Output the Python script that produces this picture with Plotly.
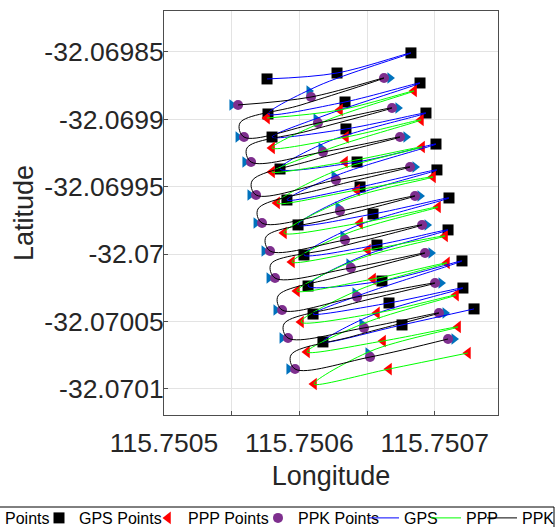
import plotly.graph_objects as go

# ---------------- data (lon / lat) ----------------
# GPS fixes, row by row: left, middle, right
gps_lon = [115.7505761, 115.7506278, 115.7506824,
           115.7505768, 115.7506337, 115.7506891,
           115.7505798, 115.7506344, 115.7506935,
           115.7505857, 115.7506426, 115.7507009,
           115.7505908, 115.7506448, 115.7507016,
           115.7505990, 115.7506544, 115.7507105,
           115.7506034, 115.7506573, 115.7507098,
           115.7506064, 115.7506610, 115.7507201,
           115.7506101, 115.7506662, 115.7507208,
           115.7506174, 115.7506758, 115.7507290]
gps_lat = [-32.0698700, -32.0698656, -32.0698507,
           -32.0698960, -32.0698871, -32.0698730,
           -32.0699131, -32.0699071, -32.0698953,
           -32.0699368, -32.0699316, -32.0699183,
           -32.0699598, -32.0699501, -32.0699375,
           -32.0699783, -32.0699702, -32.0699583,
           -32.0700006, -32.0699932, -32.0699820,
           -32.0700236, -32.0700199, -32.0700050,
           -32.0700444, -32.0700362, -32.0700251,
           -32.0700651, -32.0700525, -32.0700406]
gps_back_lon = [115.7506137, 115.7506197, 115.7506204, 115.7506285, 115.7506307,
                115.7506403, 115.7506433, 115.7506470, 115.7506522]
gps_back_lat = [-32.0698752, -32.0698967, -32.0699168, -32.0699412, -32.0699598,
                -32.0699798, -32.0700028, -32.0700295, -32.0700458]

ppp_lon = [115.7505761, 115.7506300, 115.7506847,
           115.7505798, 115.7506344, 115.7506898,
           115.7505798, 115.7506337, 115.7506906,
           115.7505835, 115.7506426, 115.7506987,
           115.7505886, 115.7506448, 115.7507024,
           115.7505945, 115.7506507, 115.7507076,
           115.7505982, 115.7506544, 115.7507090,
           115.7506012, 115.7506573, 115.7507157,
           115.7506056, 115.7506618, 115.7507172,
           115.7506108, 115.7506662, 115.7507245]
ppp_lat = [-32.0698990, -32.0698930, -32.0698789,
           -32.0699212, -32.0699131, -32.0699004,
           -32.0699390, -32.0699316, -32.0699205,
           -32.0699620, -32.0699524, -32.0699427,
           -32.0699843, -32.0699769, -32.0699650,
           -32.0700058, -32.0699969, -32.0699865,
           -32.0700273, -32.0700184, -32.0700065,
           -32.0700503, -32.0700436, -32.0700303,
           -32.0700725, -32.0700644, -32.0700540,
           -32.0700963, -32.0700852, -32.0700733]
ppp_back_lon = [115.7506211, 115.7506256, 115.7506248, 115.7506337, 115.7506359,
                115.7506418, 115.7506455, 115.7506485, 115.7506529]
ppp_back_lat = [-32.0699004, -32.0699205, -32.0699390, -32.0699598, -32.0699843,
                -32.0700043, -32.0700258, -32.0700510, -32.0700718]

ppk_lon = [115.7505547, 115.7506086, 115.7506625,
           115.7505591, 115.7506137, 115.7506684,
           115.7505643, 115.7506174, 115.7506743,
           115.7505680, 115.7506270, 115.7506817,
           115.7505724, 115.7506300, 115.7506854,
           115.7505783, 115.7506337, 115.7506906,
           115.7505820, 115.7506381, 115.7506928,
           115.7505872, 115.7506426, 115.7507002,
           115.7505916, 115.7506477, 115.7507031,
           115.7505968, 115.7506522, 115.7507098]
ppk_lat = [-32.0698893, -32.0698834, -32.0698693,
           -32.0699131, -32.0699027, -32.0698915,
           -32.0699316, -32.0699242, -32.0699131,
           -32.0699561, -32.0699450, -32.0699353,
           -32.0699769, -32.0699680, -32.0699568,
           -32.0699976, -32.0699895, -32.0699783,
           -32.0700177, -32.0700102, -32.0699991,
           -32.0700414, -32.0700317, -32.0700214,
           -32.0700622, -32.0700547, -32.0700436,
           -32.0700852, -32.0700763, -32.0700629]
ppk_back_lon = [115.7506012, 115.7506064, 115.7506101, 115.7506197, 115.7506226,
                115.7506263, 115.7506307, 115.7506352, 115.7506403]
ppk_back_lat = [-32.0698893, -32.0699086, -32.0699301, -32.0699509, -32.0699739,
                -32.0699954, -32.0700162, -32.0700377, -32.0700607]
ppk_turn_lon = [115.7505561, 115.7505613, 115.7505650, 115.7505694, 115.7505753,
                115.7505790, 115.7505842, 115.7505886, 115.7505938]
ppk_turn_lat = [-32.0699027, -32.0699212, -32.0699457, -32.0699665, -32.0699872,
                -32.0700073, -32.0700310, -32.0700518, -32.0700748]

ref_lon = [115.7505502, 115.7506071, 115.7506669,
           115.7505547, 115.7506123, 115.7506728,
           115.7505598, 115.7506160, 115.7506787,
           115.7505635, 115.7506256, 115.7506854,
           115.7505680, 115.7506285, 115.7506891,
           115.7505739, 115.7506322, 115.7506943,
           115.7505776, 115.7506366, 115.7506972,
           115.7505827, 115.7506411, 115.7507046,
           115.7505872, 115.7506462, 115.7507076,
           115.7505923, 115.7506507, 115.7507142]
ref_lat = [-32.0698893, -32.0698789, -32.0698693,
           -32.0699131, -32.0698997, -32.0698915,
           -32.0699316, -32.0699212, -32.0699131,
           -32.0699561, -32.0699420, -32.0699353,
           -32.0699769, -32.0699650, -32.0699568,
           -32.0699976, -32.0699865, -32.0699783,
           -32.0700177, -32.0700073, -32.0699991,
           -32.0700414, -32.0700288, -32.0700214,
           -32.0700622, -32.0700518, -32.0700436,
           -32.0700852, -32.0700733, -32.0700629]

x_tick_vals = [115.7505, 115.7506, 115.7507]
x_tick_text = ["115.7505", "115.7506", "115.7507"]
x_minor_vals = [115.75055, 115.75065]
y_tick_vals = [-32.0701, -32.07005, -32.07, -32.06995, -32.0699, -32.06985]
y_tick_text = ["-32.0701", "-32.07005", "-32.07", "-32.06995", "-32.0699", "-32.06985"]


def build_path(p_lon, p_lat, b_lon, b_lat, t_lon=None, t_lat=None):
    xs, ys = [], []
    n = len(p_lon) // 3
    for i in range(n):
        xs += p_lon[3 * i:3 * i + 3]
        ys += p_lat[3 * i:3 * i + 3]
        if i < n - 1:
            xs.append(b_lon[i]); ys.append(b_lat[i])
            if t_lon is not None:
                xs.append(t_lon[i]); ys.append(t_lat[i])
    return xs, ys


FONT = "Liberation Sans, Arial, sans-serif"
fig = go.Figure()

fig.add_trace(go.Scatter(x=ref_lon, y=ref_lat, mode="markers", name="Points",
                         legend="legend2",
                         marker=dict(symbol="triangle-right", size=10, color="#0072BD")))
fig.add_trace(go.Scatter(x=gps_lon, y=gps_lat, mode="markers", name="GPS Points",
                         legendwidth=64,
                         marker=dict(symbol="square", size=11, color="black")))
fig.add_trace(go.Scatter(x=ppp_lon, y=ppp_lat, mode="markers", name="PPP Points",
                         legendwidth=65,
                         marker=dict(symbol="triangle-left", size=11, color="#FF0000")))
fig.add_trace(go.Scatter(x=ppk_lon, y=ppk_lat, mode="markers", name="PPK Points",
                         legendwidth=61,
                         marker=dict(symbol="circle", size=10, color="#7E2F8E")))

gx, gy = build_path(gps_lon, gps_lat, gps_back_lon, gps_back_lat)
px_, py_ = build_path(ppp_lon, ppp_lat, ppp_back_lon, ppp_back_lat)
kx, ky = build_path(ppk_lon, ppk_lat, ppk_back_lon, ppk_back_lat, ppk_turn_lon, ppk_turn_lat)

fig.add_trace(go.Scatter(x=gx, y=gy, mode="lines", name="GPS", legendwidth=17,
                         line=dict(color="#0000FF", width=1, shape="spline")))
fig.add_trace(go.Scatter(x=px_, y=py_, mode="lines", name="PPP", legendwidth=11,
                         line=dict(color="#00FF00", width=1, shape="spline")))
fig.add_trace(go.Scatter(x=kx, y=ky, mode="lines", name="PPK", legendwidth=32,
                         line=dict(color="black", width=1, shape="spline")))

axis_common = dict(showline=True, linecolor="#4d4d4d", linewidth=1, mirror=True,
                   ticks="inside", ticklen=4, tickcolor="#4d4d4d",
                   showgrid=True, gridcolor="#e3e3e3", gridwidth=1, zeroline=False,
                   tickfont=dict(family=FONT, size=26.5, color="#262626"))

fig.update_xaxes(domain=[164 / 559, 498 / 559], range=[115.7505, 115.7507467],
                 tickmode="array", tickvals=x_tick_vals, ticktext=x_tick_text,
                 minor=dict(tickmode="array", tickvals=x_minor_vals, ticks="inside",
                            ticklen=4, tickcolor="#4d4d4d", showgrid=True,
                            gridcolor="#e3e3e3"),
                 ticklabelstandoff=4,
                 title=dict(text="Longitude", font=dict(family=FONT, size=27, color="#262626"),
                            standoff=9),
                 **axis_common)
fig.update_yaxes(domain=[112 / 527, 516 / 527], range=[-32.0701193, -32.0698196],
                 tickmode="array", tickvals=y_tick_vals, ticktext=y_tick_text,
                 ticklabelstandoff=-6,
                 title=dict(text="Latitude", font=dict(family=FONT, size=27, color="#262626"),
                            standoff=2),
                 **axis_common)

leg_common = dict(orientation="h", yanchor="top", y=(527 - 501) / 527,
                  xanchor="left", bgcolor="rgba(0,0,0,0)", borderwidth=0,
                  font=dict(family=FONT, size=16, color="black"))
fig.update_layout(
    width=559, height=527,
    margin=dict(l=0, r=0, t=0, b=0, autoexpand=False),
    paper_bgcolor="white", plot_bgcolor="white",
    showlegend=True,
    legend=dict(x=39 / 559, **leg_common),
    legend2=dict(x=-35 / 559, **leg_common),
    shapes=[dict(type="rect", xref="paper", yref="paper",
                 x0=-0.03, x1=554 / 559, y0=-0.05, y1=(527 - 507) / 527,
                 line=dict(color="black", width=1), fillcolor="rgba(0,0,0,0)")],
)

fig.write_html("out.html", config={"displayModeBar": False},
               post_script="document.body.style.margin='0px';")
